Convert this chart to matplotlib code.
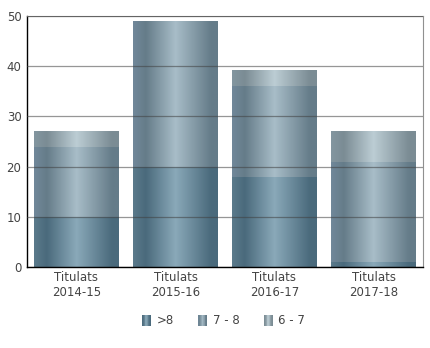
"""Stacked bars of graduates by grade band, with a cylinder-like gradient."""

import matplotlib

matplotlib.use("Agg")
import matplotlib.pyplot as plt
import numpy as np
from matplotlib.colors import LinearSegmentedColormap
from matplotlib.legend_handler import HandlerBase
from matplotlib.patches import Rectangle

categories = ["Titulats\n2014-15", "Titulats\n2015-16", "Titulats\n2016-17", "Titulats\n2017-18"]
series_names = [">8", "7 - 8", "6 - 7"]
above_8 = [10, 20, 18, 1]
from_7_to_8 = [14, 29, 18, 20]
from_6_to_7 = [3, 0, 3, 6]
y_ticks = [0, 10, 20, 30, 40, 50]

# (edge, dark, light) shades for each series
shades = [
    ("#5b7a8b", "#4a6a7c", "#8aa9b9"),
    ("#71889a", "#657c89", "#a8bdc8"),
    ("#8396a0", "#7b8c94", "#bccdd4"),
]


def make_cmap(shade):
    edge, dark, light = shade
    return LinearSegmentedColormap.from_list(
        "cyl", [(0.0, edge), (0.15, dark), (0.5, light), (0.92, dark), (1.0, dark)]
    )


cmaps = [make_cmap(s) for s in shades]
grad = np.linspace(0, 1, 256).reshape(1, -1)


class GradientHandler(HandlerBase):
    def __init__(self, cmap):
        super().__init__()
        self.cmap = cmap

    def create_artists(self, legend, orig_handle, xdescent, ydescent, width, height, fontsize, trans):
        artists = []
        n = 12
        w = height * 0.9
        x0 = -xdescent + width - w
        for i in range(n):
            r = Rectangle((x0 + i * w / n, -ydescent - height * 0.1), w / n + 0.05, height * 1.15,
                          facecolor=self.cmap((i + 0.5) / n), edgecolor="none", transform=trans)
            artists.append(r)
        return artists


plt.rcParams["font.family"] = "DejaVu Sans"
fig = plt.figure(figsize=(4.3, 3.48), dpi=100)
ax = fig.add_axes([27 / 430, 1 - 267 / 348, 396 / 430, 251 / 348])

x = np.arange(len(categories))
width = 0.85
bottom = np.zeros(len(categories))
handles = []
for values, cmap, name in zip([above_8, from_7_to_8, from_6_to_7], cmaps, series_names):
    bars = ax.bar(x, values, width, bottom=bottom, color="none", edgecolor="none", label=name)
    for bar in bars:
        if bar.get_height() <= 0:
            continue
        bx, by = bar.get_x(), bar.get_y()
        ax.imshow(grad, cmap=cmap, aspect="auto", interpolation="bilinear",
                  extent=(bx, bx + bar.get_width(), by, by + bar.get_height()), zorder=2)
    handles.append(bars)
    bottom += np.array(values)

ax.set_xlim(-0.5, len(categories) - 0.5)
ax.set_ylim(0, 50)
ax.set_yticks(y_ticks)
ax.set_xticks(x)
ax.set_xticklabels(categories)
ax.tick_params(length=0, labelsize=8.5, colors="#444444", pad=4)
ax.tick_params(axis="x", pad=3)
ax.yaxis.grid(True, color="#404040", alpha=0.55, linewidth=0.9, zorder=3)
ax.set_axisbelow(False)
for spine in ["top", "right"]:
    ax.spines[spine].set_color("#909090")
for spine in ["left", "bottom"]:
    ax.spines[spine].set_color("black")
    ax.spines[spine].set_linewidth(1.0)

fig.legend(handles, series_names, loc="center", bbox_to_anchor=(222 / 430, 1 - 321 / 348),
           ncol=3, frameon=False, fontsize=8.5, handlelength=1.0, handleheight=0.9,
           handletextpad=0.5, columnspacing=1.8, labelcolor="#444444",
           handler_map={h: GradientHandler(c) for h, c in zip(handles, cmaps)})

fig.savefig("out.png", dpi=100)
